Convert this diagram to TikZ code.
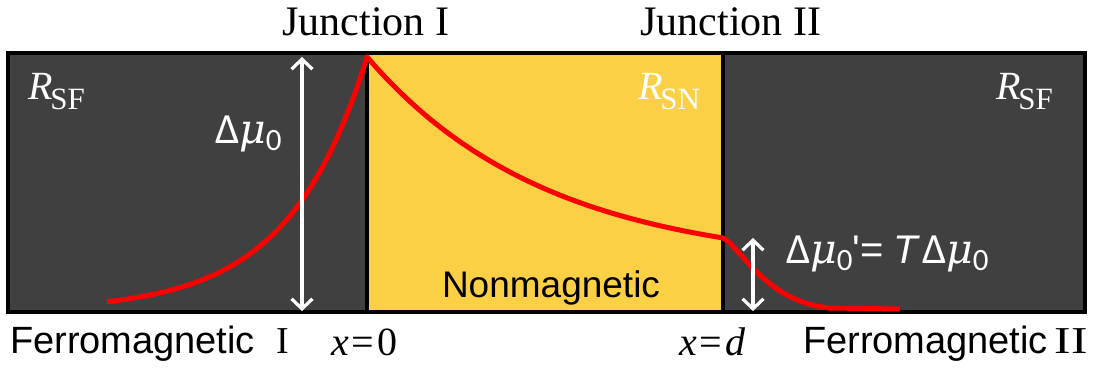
\documentclass[tikz,border=0pt]{standalone}
\usepackage{fontspec}
\setmainfont{Liberation Serif}
\newfontfamily\arialf{Liberation Sans}
\newfontfamily\calibf{Carlito}
\newfontfamily\muf{DejaVu Serif}
\usetikzlibrary{arrows.meta}
\definecolor{ferro}{RGB}{64,64,64}
\definecolor{nonmag}{RGB}{252,208,69}
\definecolor{curve}{RGB}{255,0,0}
\tikzset{
  lbl/.style={inner sep=0pt, outer sep=0pt},
  junction/.style={lbl, anchor=base, font=\fontsize{42}{42}\selectfont},
  rlabel/.style={lbl, anchor=base west, text=white, font=\fontsize{40}{40}\selectfont},
  mu/.style={lbl, anchor=base west, text=white, font=\calibf\fontsize{43}{43}\selectfont},
  region/.style={lbl, anchor=base west, font=\arialf\fontsize{38}{38}\selectfont},
  xpos/.style={lbl, anchor=base west, font=\fontsize{40}{40}\selectfont},
  wall/.style={draw=black, line width=4pt},
  potential/.style={draw=curve, line width=5pt},
  gap/.style={draw=white, line width=3.2pt, {Straight Barb[length=10pt,width=21pt]}-{Straight Barb[length=10pt,width=21pt]}}
}
\newcommand{\subsc}[1]{\kern-2pt\raisebox{-10pt}{\fontsize{31}{31}\selectfont #1}}
\newcommand{\dmu}{Δ{\muf\itshape\fontsize{41}{41}\selectfont μ}\raisebox{-7pt}{\fontsize{31}{31}\selectfont 0}}
\begin{document}
\begin{tikzpicture}[x=1pt,y=-1pt]
\useasboundingbox (0,0) rectangle (1097,367);
% regions
\fill[ferro] (8,53) rectangle (367,312);
\fill[nonmag] (367,53) rectangle (723,312);
\fill[ferro] (723,53) rectangle (1085,312);
\draw[wall] (367,53) -- (367,312);
\draw[wall] (723,53) -- (723,312);
\draw[wall] (8,53) rectangle (1085,312);
% potential curve
\coordinate (start) at (107,311);
\coordinate (peak) at (367,57);
\coordinate (knee) at (723,238);
\coordinate (tail) at (900,309);
\draw[potential, line join=round]
  plot[domain=107:367, samples=60, smooth] (\x,{311 - 254*exp((\x-367)/78.5)})
  -- plot[domain=367:723, samples=70, smooth] (\x,{57 + 210*(1-exp(-(\x-367)/180))})
  .. controls (740,246) and (765,302) .. (830,308) -- (tail);
% arrows
\coordinate (a1t) at (302,57);
\coordinate (a1b) at (302,311);
\coordinate (a2t) at (753,238);
\coordinate (a2b) at (753,311);
\draw[gap] (a1t) -- (a1b);
\draw[gap] (a2t) -- (a2b);
% labels
\node[junction] (j1) at (366,35) {Junction I};
\node[junction] (j2) at (731,35) {Junction II};
\node[rlabel] (r1) at (28,99) {\textit{R}\subsc{SF}};
\node[rlabel] (r2) at (638,99) {\textit{R}\subsc{SN}};
\node[rlabel] (r3) at (996,99) {\textit{R}\subsc{SF}};
\node[mu] (m1) at (215,143) {\dmu};
\node[mu] (m2) at (786,263) {\dmu{\arialf\fontsize{40}{40}\selectfont '=\hspace{10pt}\itshape T\hspace{4pt}}\dmu};
\node[lbl, anchor=base, font=\arialf\fontsize{37}{37}\selectfont] (nm) at (551,297) {Nonmagnetic};
\node[region] (f1) at (10,353) {Ferromagnetic\hspace{22pt}{\rmfamily\fontsize{38}{38}\selectfont I}};
\node[region] (f2) at (803,353) {Ferromagnetic\hspace{7pt}{\rmfamily\fontsize{38}{38}\selectfont\scalebox{1.3}[1]{II}}};
\node[xpos] (x0) at (331,355) {\textit{x}\hspace{3pt}=\hspace{3pt}0};
\node[xpos] (xd) at (679,355) {\textit{x}\hspace{3pt}=\hspace{3pt}\textit{d}};
\end{tikzpicture}
\end{document}
